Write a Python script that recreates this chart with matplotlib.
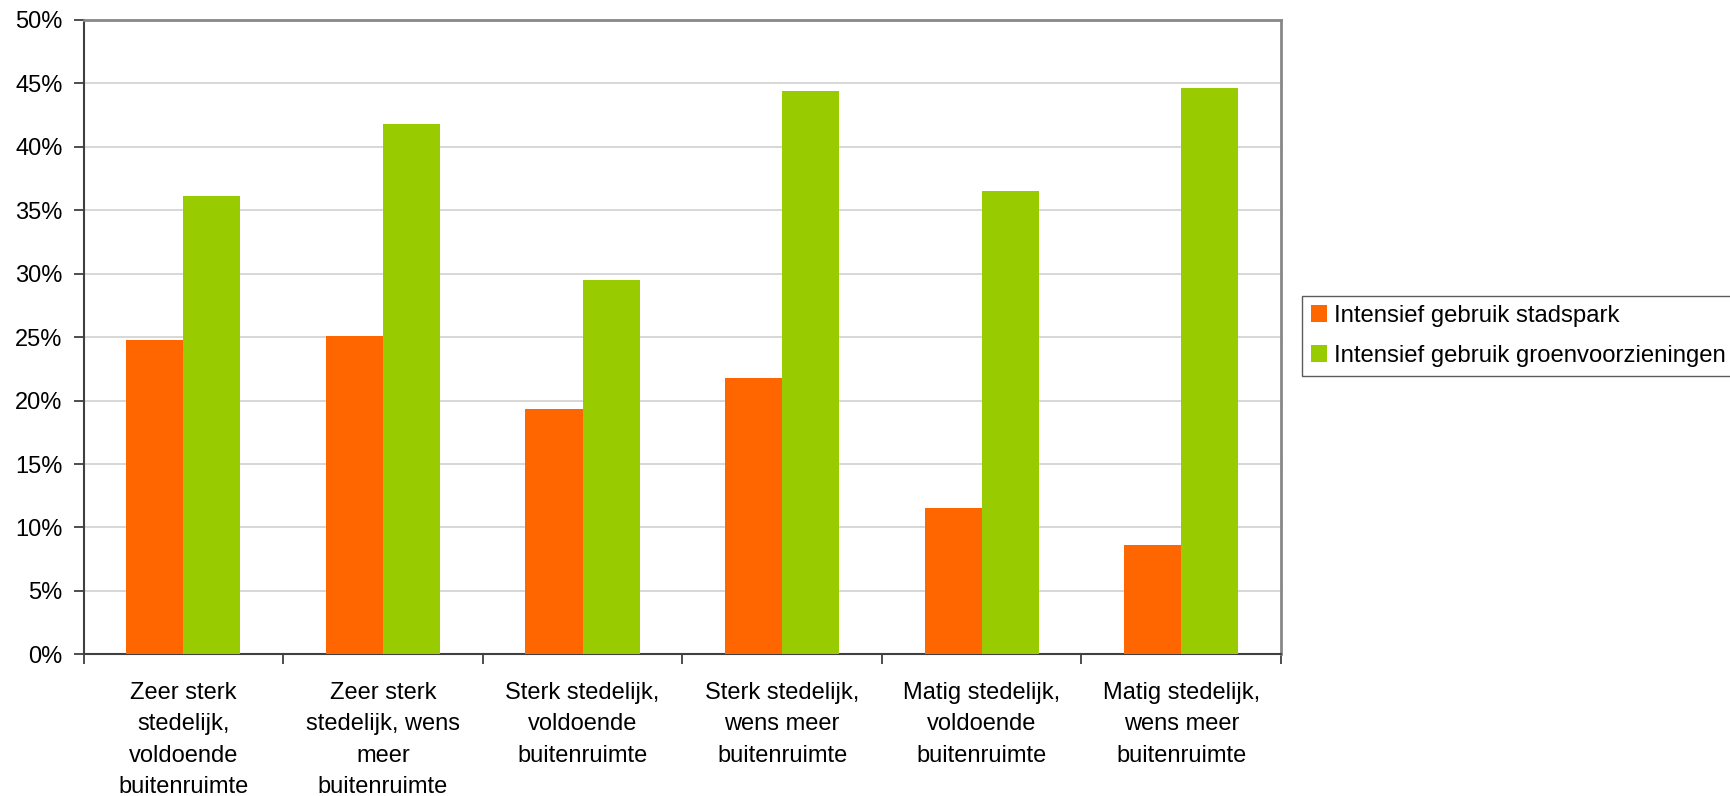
import numpy as np
import matplotlib
matplotlib.use('Agg')
import matplotlib.pyplot as plt
from matplotlib.ticker import FuncFormatter

plt.rcParams['font.family'] = ['Liberation Sans', 'DejaVu Sans']

# Data (percentages)
categories = [
    "Zeer sterk\nstedelijk,\nvoldoende\nbuitenruimte",
    "Zeer sterk\nstedelijk, wens\nmeer\nbuitenruimte",
    "Sterk stedelijk,\nvoldoende\nbuitenruimte",
    "Sterk stedelijk,\nwens meer\nbuitenruimte",
    "Matig stedelijk,\nvoldoende\nbuitenruimte",
    "Matig stedelijk,\nwens meer\nbuitenruimte",
]
stadspark = [24.8, 25.1, 19.3, 21.8, 11.5, 8.6]
groen = [36.1, 41.8, 29.5, 44.4, 36.5, 44.6]
series_names = ["Intensief gebruik stadspark", "Intensief gebruik groenvoorzieningen"]
yticks = [0, 5, 10, 15, 20, 25, 30, 35, 40, 45, 50]

fig = plt.figure(figsize=(17.3, 7.96), dpi=100)
ax = fig.add_axes([0.0483, 0.178, 0.6922, 0.7969])

x = np.arange(len(categories))
w = 1 / 3.5
ax.bar(x - w / 2, stadspark, w, color='#FF6600', label=series_names[0], zorder=3)
ax.bar(x + w / 2, groen, w, color='#99CC00', label=series_names[1], zorder=3)

ax.set_xlim(-0.5, len(categories) - 0.5)
ax.set_ylim(0, 50)
ax.set_yticks(yticks)
ax.yaxis.set_major_formatter(FuncFormatter(lambda v, p: f"{v:.0f}%"))
ax.yaxis.grid(True, color='#d4d4d4', linewidth=1.3, zorder=0)
ax.set_axisbelow(True)

ax.set_xticks(x)
ax.set_xticklabels(categories, fontsize=17, linespacing=1.55)
ax.set_xticks(np.arange(-0.5, len(categories), 1), minor=True)
ax.tick_params(axis='x', which='major', length=0, pad=20)
ax.tick_params(axis='x', which='minor', length=7, width=1.3, color='#404040')
ax.tick_params(axis='y', length=7, width=1.3, color='#404040', labelsize=17, pad=8)

for s in ['left', 'bottom']:
    ax.spines[s].set_color('#404040')
    ax.spines[s].set_linewidth(1.5)
for s in ['top', 'right']:
    ax.spines[s].set_color('#888888')
    ax.spines[s].set_linewidth(2)

leg = ax.legend(loc='upper left', bbox_to_anchor=(1302 / 1730, 1 - 296 / 796),
                bbox_transform=fig.transFigure, borderaxespad=0, fontsize=17.2,
                frameon=True, fancybox=False, edgecolor='#333333',
                handlelength=0.68, handleheight=0.68, handletextpad=0.3,
                labelspacing=0.75, borderpad=0.37)
leg.get_frame().set_linewidth(1.0)

fig.savefig('out.png', dpi=100)
